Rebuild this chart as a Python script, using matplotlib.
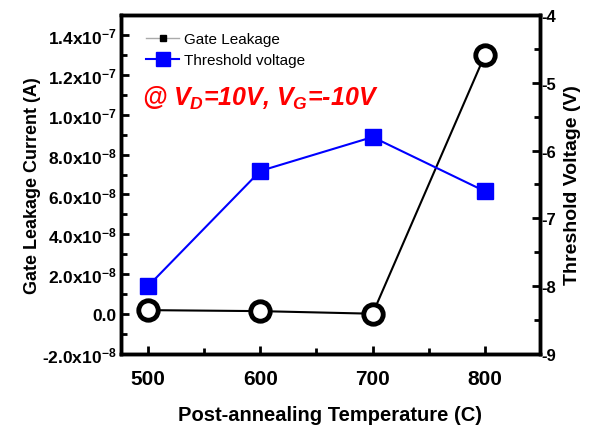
import matplotlib
matplotlib.use('Agg')
import matplotlib.pyplot as plt
from matplotlib.lines import Line2D
from matplotlib.ticker import FixedLocator, MultipleLocator

plt.rcParams['font.family'] = ['Liberation Sans', 'DejaVu Sans']
plt.rcParams['axes.unicode_minus'] = False
plt.rcParams['mathtext.fontset'] = 'custom'
plt.rcParams['mathtext.rm'] = 'Liberation Sans:bold'
plt.rcParams['mathtext.bf'] = 'Liberation Sans:bold'
plt.rcParams['mathtext.it'] = 'Liberation Sans:bold:italic'

# annealing temperatures and measured values
temps = [500, 600, 700, 800]
leakage = [2.0e-9, 1.5e-9, 0.2e-9, 1.30e-7]
vth = [-8.0, -6.3, -5.8, -6.6]

left_ticks = [-2e-8, 0, 2e-8, 4e-8, 6e-8, 8e-8, 1e-7, 1.2e-7, 1.4e-7]
left_labels = [r'-2.0x10$^{\mathrm{-8}}$', '0.0', r'2.0x10$^{\mathrm{-8}}$', r'4.0x10$^{\mathrm{-8}}$',
               r'6.0x10$^{\mathrm{-8}}$', r'8.0x10$^{\mathrm{-8}}$', r'1.0x10$^{\mathrm{-7}}$',
               r'1.2x10$^{\mathrm{-7}}$', r'1.4x10$^{\mathrm{-7}}$']

fig = plt.figure(figsize=(5.91, 4.27), dpi=100)
ax = fig.add_axes([121/591, 1 - 355/427, 419/591, 339/427])
ax2 = ax.twinx()

ax.plot(temps, leakage, color='black', lw=1.5, marker='o', ms=14,
        mfc='white', mec='black', mew=3.5, zorder=3)
ax2.plot(temps, vth, color='#0000ff', lw=1.5, marker='s', ms=11,
         mfc='#0000ff', mec='#0000ff', zorder=3)

ax.set_xlim(476, 849)
ax.set_ylim(-2e-8, 1.5e-7)
ax2.set_ylim(-9, -4)

ax.xaxis.set_major_locator(FixedLocator(temps))
ax.xaxis.set_minor_locator(MultipleLocator(50))
ax.yaxis.set_major_locator(FixedLocator(left_ticks))
ax.yaxis.set_minor_locator(MultipleLocator(1e-8))
ax.set_yticklabels(left_labels)
ax2.yaxis.set_major_locator(MultipleLocator(1))
ax2.yaxis.set_minor_locator(MultipleLocator(0.5))

for a in (ax, ax2):
    for s in a.spines.values():
        s.set_linewidth(2.5)
ax.tick_params(axis='both', which='both', direction='in', top=False, right=False, width=2)
ax.tick_params(axis='both', which='major', length=6)
ax.tick_params(axis='both', which='minor', length=4)
ax.tick_params(axis='x', labelsize=15, pad=11)
ax.tick_params(axis='y', labelsize=12.5, pad=3)
ax2.tick_params(axis='y', which='both', direction='in', width=2, labelsize=12, pad=1)
ax2.tick_params(axis='y', which='major', length=6)
ax2.tick_params(axis='y', which='minor', length=4)
for lab in ax.get_xticklabels() + ax.get_yticklabels() + ax2.get_yticklabels():
    lab.set_fontweight('bold')

ax.set_xlabel('Post-annealing Temperature (C)', fontsize=14.5, fontweight='bold', labelpad=12)
ax.set_ylabel('Gate Leakage Current (A)', fontsize=13, fontweight='bold', labelpad=1)
ax2.set_ylabel('Threshold Voltage (V)', fontsize=14, fontweight='bold', labelpad=6)

handles = [
    Line2D([], [], color='#aaaaaa', lw=1, marker='s', ms=5, mfc='black', mec='black'),
    Line2D([], [], color='#0000ff', lw=1.5, marker='s', ms=10, mfc='#0000ff', mec='#0000ff'),
]
ax.legend(handles, ['Gate Leakage', 'Threshold voltage'], loc='upper left',
          bbox_to_anchor=(0.03, 0.985), frameon=False, fontsize=11,
          handlelength=2.2, handletextpad=0.3, labelspacing=0.45, borderaxespad=0.4)

ax.text(0.05, 0.735, r'@ $V_D$=10V, $V_G$=-10V',
        transform=ax.transAxes, color='red', fontsize=18, fontweight='bold',
        fontstyle='italic')

fig.savefig('out.png', dpi=100)
